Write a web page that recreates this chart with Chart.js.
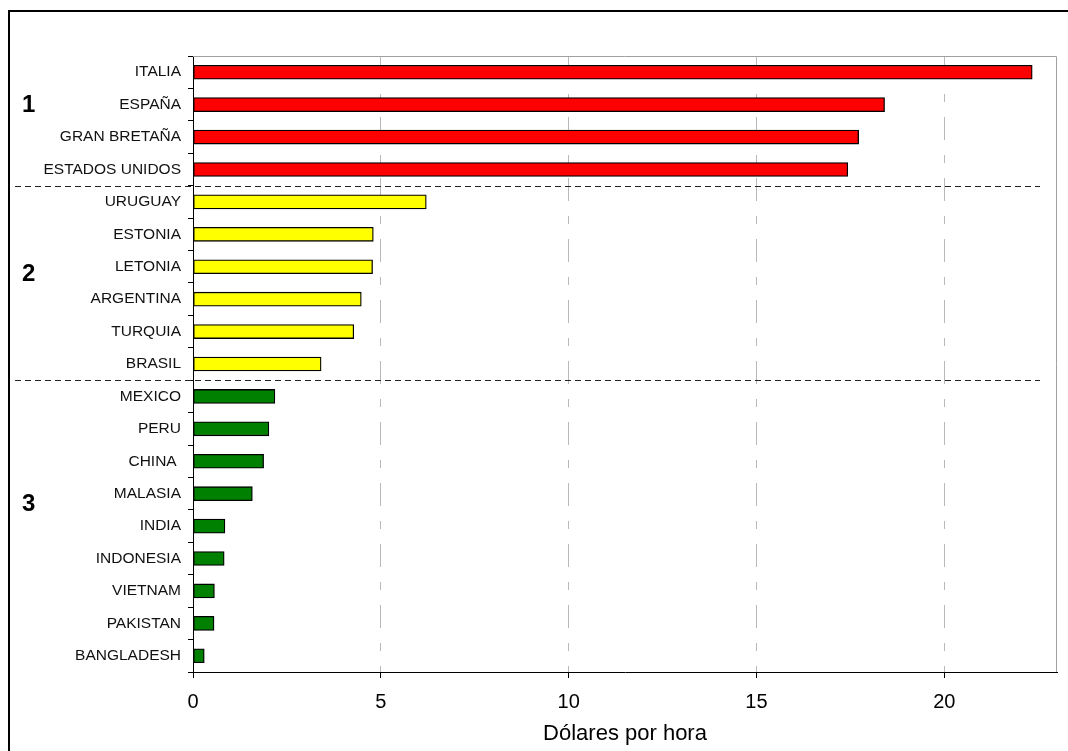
<!DOCTYPE html>
<html>
<head>
<meta charset="utf-8">
<script src="https://cdn.jsdelivr.net/npm/chart.js@4"></script>
<style>
    html, body { margin: 0; padding: 0; background: #fff; }
    #wrap { width: 1068px; height: 751px; position: relative; }
</style>
</head>
<body>
<div id="wrap"><canvas id="wageChart" width="1068" height="751"></canvas></div>
<script>
// Data
const countries = ['ITALIA', 'ESPAÑA', 'GRAN BRETAÑA', 'ESTADOS UNIDOS',
    'URUGUAY', 'ESTONIA', 'LETONIA', 'ARGENTINA', 'TURQUIA', 'BRASIL',
    'MEXICO', 'PERU', 'CHINA ', 'MALASIA', 'INDIA', 'INDONESIA', 'VIETNAM', 'PAKISTAN', 'BANGLADESH'];
const wages = [22.34, 18.41, 17.72, 17.43,
    6.21, 4.8, 4.78, 4.48, 4.28, 3.41,
    2.18, 2.02, 1.88, 1.58, 0.85, 0.83, 0.57, 0.56, 0.30];
const groupOf = [1, 1, 1, 1, 2, 2, 2, 2, 2, 2, 3, 3, 3, 3, 3, 3, 3, 3, 3];
const groupLabels = ['1', '2', '3'];
const xTicks = [0, 5, 10, 15, 20];
const axisTitle = 'Dólares por hora';

const groupColors = { 1: '#ff0000', 2: '#ffff00', 3: '#008000' };
const FONT = 'Arial, "Liberation Sans", sans-serif';

/**
 * Frame, plot border, group separators and group numbers
 */
const decorPlugin = {
    id: 'decor',
    beforeDraw(chart) {
        const ctx = chart.ctx;
        ctx.save();
        ctx.fillStyle = '#fff';
        ctx.fillRect(0, 0, chart.width, chart.height);
        ctx.restore();
    },
    afterDraw(chart) {
        const ctx = chart.ctx;
        const area = chart.chartArea;
        const y = chart.scales.y;
        ctx.save();

        // outer frame
        ctx.strokeStyle = '#000';
        ctx.lineWidth = 2;
        ctx.beginPath();
        ctx.moveTo(9, chart.height + 5);
        ctx.lineTo(9, 11);
        ctx.lineTo(chart.width + 5, 11);
        ctx.stroke();

        // grey top / right border of the plot
        ctx.strokeStyle = '#a0a0a0';
        ctx.lineWidth = 1;
        ctx.beginPath();
        ctx.moveTo(area.left, area.top + 0.5);
        ctx.lineTo(area.right - 0.5, area.top + 0.5);
        ctx.lineTo(area.right - 0.5, area.bottom);
        ctx.stroke();

        // dashed separators between groups
        ctx.strokeStyle = '#222';
        ctx.lineWidth = 1;
        ctx.setLineDash([6, 4]);
        for (let i = 1; i < groupOf.length; i++) {
            if (groupOf[i] !== groupOf[i - 1]) {
                const py = Math.round((y.getPixelForValue(i - 1) + y.getPixelForValue(i)) / 2) + 0.5;
                ctx.beginPath();
                ctx.moveTo(15, py);
                ctx.lineTo(1040, py);
                ctx.stroke();
            }
        }
        ctx.setLineDash([]);

        // group numbers
        const rows = [1, 6.2, 13.3];
        const step = y.getPixelForValue(1) - y.getPixelForValue(0);
        ctx.fillStyle = '#000';
        ctx.font = 'bold 24px ' + FONT;
        ctx.textAlign = 'left';
        ctx.textBaseline = 'middle';
        groupLabels.forEach((label, i) => {
            const py = y.getPixelForValue(0) + rows[i] * step;
            ctx.fillText(label, 22, py + 1);
        });
        ctx.restore();
    }
};

new Chart(document.getElementById('wageChart'), {
    type: 'bar',
    data: {
        labels: countries,
        datasets: [{
            data: wages,
            backgroundColor: groupOf.map(g => groupColors[g]),
            borderColor: '#000',
            borderWidth: 1.3,
            borderSkipped: false,
            barThickness: 14
        }]
    },
    options: {
        indexAxis: 'y',
        responsive: false,
        animation: false,
        devicePixelRatio: 1,
        layout: { padding: { left: 0, top: 56, right: 11, bottom: 0 } },
        plugins: {
            legend: { display: false },
            tooltip: { enabled: false }
        },
        scales: {
            x: {
                type: 'linear',
                min: 0,
                max: 23,
                afterBuildTicks: scale => {
                    scale.ticks = xTicks.map(v => ({ value: v }));
                },
                afterFit: scale => { scale.height = 79; },
                grid: {
                    color: ctx => (ctx.tick && ctx.tick.value === 0) ? 'rgba(0,0,0,0)' : '#b8b8b8',
                    lineWidth: 1,
                    tickColor: '#000',
                    tickLength: 6
                },
                border: { display: true, color: '#000', width: 1, dash: [23, 15, 8, 15] },
                ticks: {
                    color: '#000',
                    padding: 12,
                    font: { family: FONT, size: 20 }
                },
                title: {
                    display: true,
                    text: axisTitle,
                    color: '#000',
                    padding: { top: 0, bottom: 4 },
                    font: { family: FONT, size: 22 }
                }
            },
            y: {
                afterFit: scale => { scale.width = 193; },
                grid: {
                    offset: true,
                    drawOnChartArea: false,
                    tickColor: '#000',
                    tickLength: 5
                },
                border: { display: true, color: '#000', width: 1 },
                ticks: {
                    color: '#111',
                    padding: 7,
                    autoSkip: false,
                    font: { family: FONT, size: 15.5 }
                }
            }
        }
    },
    plugins: [decorPlugin]
});
</script>
</body>
</html>
